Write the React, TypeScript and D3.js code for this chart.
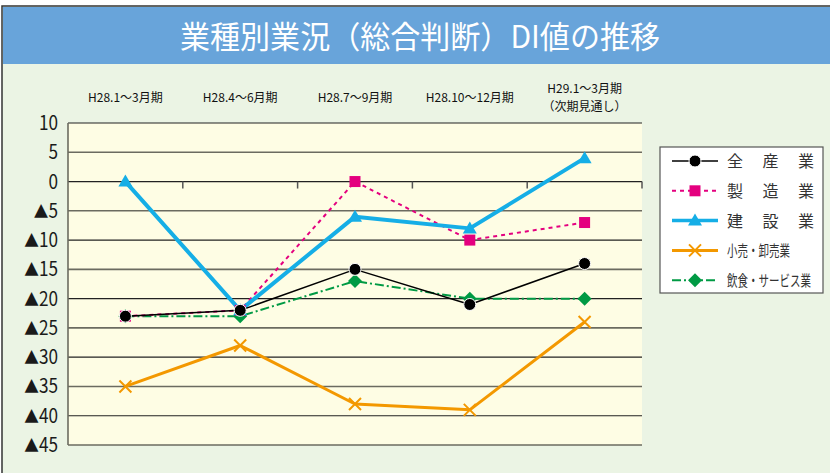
import * as d3 from "d3";

const categories = [
  ["H28.1～3月期"],
  ["H28.4～6月期"],
  ["H28.7～9月期"],
  ["H28.10～12月期"],
  ["H29.1～3月期", "（次期見通し）"],
];

const yTicks = [10, 5, 0, -5, -10, -15, -20, -25, -30, -35, -40, -45];

const zenSangyo = [-23, -22, -15, -21, -14];
const seizo = [-23, -22, 0, -10, -7];
const kensetsu = [0, -22, -6, -8, 4];
const kouri = [-35, -28, -38, -39, -24];
const inshoku = [-23, -23, -17, -20, -20];

type Marker = "circle" | "square" | "triangle" | "cross" | "diamond";

interface Series {
  name: string;
  values: number[];
  color: string;
  width: number;
  dash?: string;
  marker: Marker;
}

// draw order (back to front)
const series: Series[] = [
  { name: "小売・卸売業", values: kouri, color: "#f39800", width: 3, marker: "cross" },
  { name: "飲食・サービス業", values: inshoku, color: "#009a44", width: 2, dash: "9,3,2,3", marker: "diamond" },
  { name: "製　造　業", values: seizo, color: "#e4007f", width: 2, dash: "4,4", marker: "square" },
  { name: "建　設　業", values: kensetsu, color: "#15aee6", width: 4, marker: "triangle" },
  { name: "全　産　業", values: zenSangyo, color: "#000000", width: 1.5, marker: "circle" },
];

const legendOrder = ["全　産　業", "製　造　業", "建　設　業", "小売・卸売業", "飲食・サービス業"];

const W = 830;
const H = 473;
const plot = { left: 68, right: 642, top: 123, bottom: 445 };

const FONT = "'Noto Sans CJK JP', 'Noto Sans', sans-serif";

function MarkerShape({ type, x, y, color }: { type: Marker; x: number; y: number; color: string }) {
  switch (type) {
    case "circle":
      return <circle cx={x} cy={y} r={6} fill={color} stroke="#fff" strokeWidth={1} />;
    case "square":
      return <rect x={x - 5.5} y={y - 5.5} width={11} height={11} fill={color} />;
    case "triangle":
      return <path d={`M${x},${y - 7}L${x + 7},${y + 5}L${x - 7},${y + 5}Z`} fill={color} />;
    case "cross":
      return (
        <path
          d={`M${x - 6},${y - 6}L${x + 6},${y + 6}M${x + 6},${y - 6}L${x - 6},${y + 6}`}
          stroke={color}
          strokeWidth={2}
          fill="none"
        />
      );
    case "diamond":
      return <path d={`M${x},${y - 7}L${x + 7},${y}L${x},${y + 7}L${x - 7},${y}Z`} fill={color} />;
  }
}

export default function App() {
  const x = d3
    .scaleBand<number>()
    .domain(d3.range(categories.length))
    .range([plot.left, plot.right]);
  const y = d3.scaleLinear().domain([-45, 10]).range([plot.bottom, plot.top]);
  const cx = (i: number) => (x(i) ?? 0) + x.bandwidth() / 2;

  const line = (vals: number[]) =>
    d3
      .line<number>()
      .x((_, i) => cx(i))
      .y((d) => y(d))(vals) ?? "";

  const legendRows = legendOrder.map((n) => series.find((s) => s.name === n)!);

  return (
    <svg
      width={W}
      height={H}
      style={{ position: "absolute", left: 0, top: 0, display: "block" }}
      fontFamily={FONT}
    >
      <rect x={0} y={0} width={W} height={H} fill="#ffffff" />
      <rect x={2} y={6} width={W} height={H} fill="#ebf4e4" stroke="#333" strokeWidth={1.5} />
      <rect x={3} y={7} width={W} height={57} fill="#68a4da" />
      <text
        x={420}
        y={48}
        textAnchor="middle"
        fill="#fff"
        fontSize={31}
        textLength={480}
        lengthAdjust="spacingAndGlyphs"
      >
        業種別業況（総合判断）DI値の推移
      </text>

      {/* category labels */}
      {categories.map((lines, i) =>
        lines.map((l, j) => (
          <text
            key={`${i}-${j}`}
            x={cx(i)}
            y={lines.length === 1 ? 102 : 93 + j * 18}
            textAnchor="middle"
            fontSize={12}
            fill="#111"
          >
            {l}
          </text>
        )),
      )}

      {/* plot */}
      <rect
        x={plot.left}
        y={plot.top}
        width={plot.right - plot.left}
        height={plot.bottom - plot.top}
        fill="#fefde4"
      />
      {yTicks.map((t) => (
        <line
          key={t}
          x1={plot.left}
          x2={plot.right}
          y1={y(t)}
          y2={y(t)}
          stroke={t % 10 === 0 ? "#222" : "#6b6b60"}
          strokeWidth={t % 10 === 0 ? 1.2 : 1.6}
        />
      ))}
      <line x1={plot.left} x2={plot.left} y1={plot.top} y2={plot.bottom} stroke="#6b6b60" strokeWidth={1.6} />
      {d3.range(1, categories.length + 1).map((i) => {
        const bx = plot.left + x.bandwidth() * i;
        return <line key={i} x1={bx} x2={bx} y1={y(0)} y2={y(0) + 7} stroke="#555" strokeWidth={1.5} />;
      })}

      {yTicks.map((t) => (
        <text
          key={t}
          x={58}
          y={y(t) + 7}
          textAnchor="end"
          fontSize={20}
          fill="#1a1a1a"
          transform={`translate(58,0) scale(0.86,1) translate(-58,0)`}
        >
          {t < 0 && <tspan fontSize={17}>▲</tspan>}
          {Math.abs(t)}
        </text>
      ))}

      {/* series */}
      {series.map((s) => (
        <path
          key={s.name}
          d={line(s.values)}
          fill="none"
          stroke={s.color}
          strokeWidth={s.width}
          strokeDasharray={s.dash}
          strokeLinejoin="round"
        />
      ))}
      {series.map((s) =>
        s.values.map((v, i) => (
          <MarkerShape key={s.name + i} type={s.marker} x={cx(i)} y={y(v)} color={s.color} />
        )),
      )}

      {/* legend */}
      <rect x={660} y={147} width={163} height={146} fill="#fff" stroke="#555" strokeWidth={1.2} />
      {legendRows.map((s, i) => {
        const ly = 161 + i * 29.8;
        const long = s.name.length > 5;
        return (
          <g key={s.name}>
            <line
              x1={672}
              x2={718}
              y1={ly}
              y2={ly}
              stroke={s.color}
              strokeWidth={Math.min(s.width, 3.5)}
              strokeDasharray={s.dash}
            />
            <MarkerShape type={s.marker} x={695} y={ly} color={s.color} />
            {long ? (
              <text
                x={727}
                y={ly + 6}
                fontSize={15}
                fill="#333"
                transform={`translate(727,0) scale(0.7,1) translate(-727,0)`}
              >
                {s.name}
              </text>
            ) : (
              <text x={727} y={ly + 6} fontSize={16} fill="#333" textLength={87} lengthAdjust="spacing">
                {s.name}
              </text>
            )}
          </g>
        );
      })}
    </svg>
  );
}
